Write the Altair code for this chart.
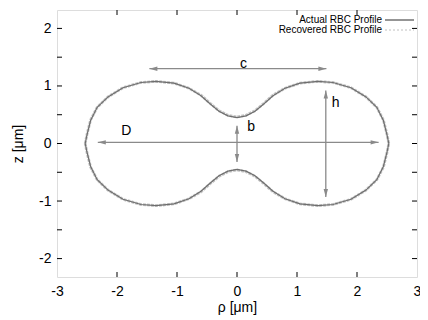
import altair as alt
import pandas as pd

# Upper-right quarter of the RBC profile (rho >= 0, z >= 0)
rho_half = [0.0, 0.15, 0.3, 0.45, 0.6, 0.8, 1.05, 1.35, 1.6, 1.9, 2.15, 2.33, 2.44, 2.5, 2.53]
z_actual = [0.45, 0.48, 0.56, 0.69, 0.83, 0.96, 1.05, 1.08, 1.06, 0.97, 0.81, 0.63, 0.40, 0.15, 0.0]
z_recovered = [0.46, 0.49, 0.57, 0.70, 0.84, 0.96, 1.05, 1.08, 1.06, 0.97, 0.81, 0.63, 0.41, 0.16, 0.0]

x_ticks = [-3, -2, -1, 0, 1, 2, 3]
y_ticks = [-2, -1.5, -1, -0.5, 0, 0.5, 1, 1.5, 2]

# dimension arrows: name, start (rho, z), end (rho, z)
arrow_names = ["c", "D", "h", "b"]
arrow_start = [(-1.46, 1.30), (-2.32, 0.02), (1.48, 0.92), (0.0, 0.31)]
arrow_end = [(1.49, 1.30), (2.36, 0.02), (1.48, -0.93), (0.0, -0.32)]
label_pos = [(0.05, 1.39), (-1.93, 0.21), (1.58, 0.70), (0.17, 0.29)]

FONT = "Liberation Sans"
W, H = 360, 267
XD = [-3, 3]
YD = [-2.32, 2.32]


def contour(rho, z, name):
    upper = [(-r, zz) for r, zz in zip(reversed(rho), reversed(z))] + \
            [(r, zz) for r, zz in zip(rho[1:], z[1:])]
    lower = [(r, -zz) for r, zz in reversed(upper)][1:]
    pts = upper + lower
    return pd.DataFrame({"rho": [p[0] for p in pts], "z": [p[1] for p in pts],
                         "order": list(range(len(pts))), "series": name})


df_act = contour(rho_half, z_actual, "Actual RBC Profile")
df_rec = contour(rho_half, z_recovered, "Recovered RBC Profile")

xs = alt.Scale(domain=XD, nice=False, zero=False)
ys = alt.Scale(domain=YD, nice=False, zero=False)

xaxis = alt.Axis(values=x_ticks, tickSize=0, domain=False, grid=False, labelFont=FONT,
                 labelFontSize=14, labelColor="black", labelPadding=7, labelFlush=False,
                 labelExpr="datum.value + ''",
                 title="ρ [μm]", titleFont=FONT, titleFontSize=14, titleFontWeight="normal",
                 titleColor="black", titlePadding=2)
yaxis = alt.Axis(values=y_ticks, tickSize=0, domain=False, grid=False, labelFont=FONT,
                 labelFontSize=14, labelColor="black", labelPadding=6, labelFlush=False,
                 labelExpr="datum.value + ''",
                 title="z [μm]", titleFont=FONT, titleFontSize=14, titleFontWeight="normal",
                 titleColor="black", titlePadding=13)

recovered = alt.Chart(df_rec).mark_line(color="#c4c4c4", strokeWidth=2.8, strokeDash=[3, 1]).encode(
    x=alt.X("rho:Q", scale=xs, axis=xaxis),
    y=alt.Y("z:Q", scale=ys, axis=yaxis),
    order="order:Q",
)
actual = alt.Chart(df_act).mark_line(color="#6e6e6e", strokeWidth=1.2).encode(
    x=alt.X("rho:Q", scale=xs), y=alt.Y("z:Q", scale=ys), order="order:Q"
)

# arrows
seg_rows = []
head_rows = []
for n, s, e in zip(arrow_names, arrow_start, arrow_end):
    seg_rows.append({"id": n, "rho": s[0], "z": s[1], "o": 0})
    seg_rows.append({"id": n, "rho": e[0], "z": e[1], "o": 1})
    if s[1] == e[1]:
        head_rows.append({"rho": s[0], "z": s[1], "ang": 180})
        head_rows.append({"rho": e[0], "z": e[1], "ang": 0})
    else:
        head_rows.append({"rho": s[0], "z": s[1], "ang": 270})
        head_rows.append({"rho": e[0], "z": e[1], "ang": 90})
seg_df = pd.DataFrame(seg_rows)
head_df = pd.DataFrame(head_rows)

arrows = alt.Chart(seg_df).mark_line(color="#8a8a8a", strokeWidth=1.3).encode(
    x=alt.X("rho:Q", scale=xs), y=alt.Y("z:Q", scale=ys), detail="id:N", order="o:Q"
)
heads = alt.Chart(head_df).mark_point(
    shape="M0,0L-2,-0.55L-2,0.55Z", filled=True, color="#8a8a8a", size=64, opacity=1
).encode(x=alt.X("rho:Q", scale=xs), y=alt.Y("z:Q", scale=ys), angle=alt.Angle("ang:Q", scale=None))

lab_df = pd.DataFrame({"t": arrow_names, "rho": [p[0] for p in label_pos], "z": [p[1] for p in label_pos]})
labels = alt.Chart(lab_df).mark_text(font=FONT, fontSize=14, color="black", align="left").encode(
    x=alt.X("rho:Q", scale=xs), y=alt.Y("z:Q", scale=ys), text="t:N"
)

# inner ticks (mirrored on all four sides)
xt = pd.DataFrame({"v": x_ticks[1:-1]})
yt = pd.DataFrame({"v": y_ticks})
tb = alt.Chart(xt).mark_rule(color="black", strokeWidth=1).encode(
    x=alt.X("v:Q", scale=xs), y=alt.value(H), y2=alt.value(H - 5))
tt = alt.Chart(xt).mark_rule(color="black", strokeWidth=1).encode(
    x=alt.X("v:Q", scale=xs), y=alt.value(0), y2=alt.value(5))
tl = alt.Chart(yt).mark_rule(color="black", strokeWidth=1).encode(
    y=alt.Y("v:Q", scale=ys), x=alt.value(0), x2=alt.value(5))
tr = alt.Chart(yt).mark_rule(color="black", strokeWidth=1).encode(
    y=alt.Y("v:Q", scale=ys), x=alt.value(W), x2=alt.value(W - 5))

# legend
leg_names = ["Actual RBC Profile", "Recovered RBC Profile"]
leg_df = pd.DataFrame({"t": leg_names, "yy": [10, 20]})
leg_text = alt.Chart(leg_df).mark_text(font=FONT, fontSize=10, color="black", align="right",
                                       baseline="middle").encode(
    x=alt.value(325), y=alt.Y("yy:Q", scale=None), text="t:N")
leg_act = alt.Chart(leg_df.iloc[[0]]).mark_rule(color="#7a7a7a", strokeWidth=1.6).encode(
    x=alt.value(328), x2=alt.value(357), y=alt.Y("yy:Q", scale=None))
leg_rec = alt.Chart(leg_df.iloc[[1]]).mark_rule(color="#c0c0c0", strokeWidth=1.0, strokeDash=[2, 2]).encode(
    x=alt.value(328), x2=alt.value(357), y=alt.Y("yy:Q", scale=None))

chart = alt.layer(
    recovered, actual, arrows, heads, labels, tb, tt, tl, tr, leg_text, leg_act, leg_rec
).properties(
    width=W, height=H,
    autosize=alt.AutoSizeParams(type="none"),
    padding={"left": 49, "top": 2, "right": 3, "bottom": 39},
).configure_view(stroke="black", strokeWidth=1.2).configure(background="white")

chart.save("out.html", embed_options={"renderer": "svg", "actions": False})
